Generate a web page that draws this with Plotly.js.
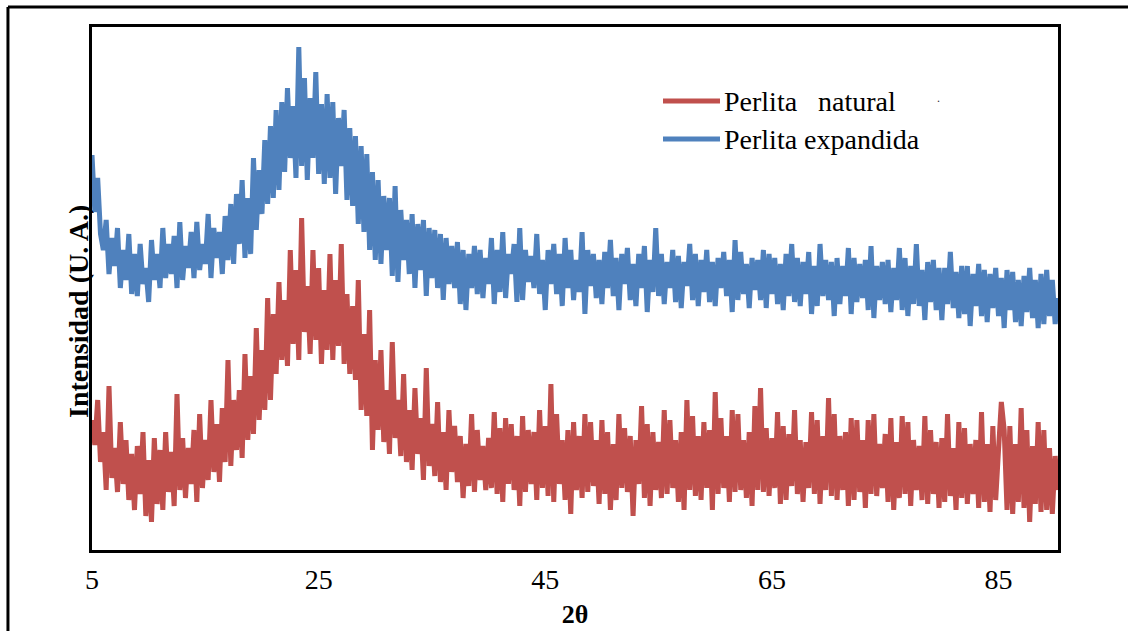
<!DOCTYPE html>
<html>
<head>
<meta charset="utf-8">
<script src="https://cdn.plot.ly/plotly-3.0.1.min.js"></script>
<style>html,body{margin:0;padding:0;background:#fff;}#chart{width:1128px;height:631px;}</style>
</head>
<body>
<div id="chart"></div>
<script>
// 2-theta sampling of the diffractograms
var thetaStart = 5;
var thetaStep = 0.25;
var tickValues = [5, 25, 45, 65, 85];
var tickLabels = ["5", "25", "45", "65", "85"];
var seriesNames = ["Perlita\u00a0\u00a0 natural", "Perlita expandida"];

// Intensity (arbitrary units), one value per 0.25 degree from 5 to 90.25
var perlitaNatural = [
130,105,150,88, 118,60,164,72, 102,58,128,66, 110,50,96,40,
104,56,118,34, 90,28,112,46, 100,40,118,58, 98,44,156,60,
112,52,102,66, 120,48,136,62, 110,70,150,78, 126,68,142,88,
190,84,150,100, 160,92,196,110, 174,116,222,130, 200,140,252,150,
236,176,268,190, 250,184,300,206, 280,190,332,218, 264,196,300,210,
282,186,260,200, 296,190,270,204, 306,186,256,176, 244,170,270,140,
216,134,240,100, 190,120,200,108, 160,96,208,112, 150,94,176,88,
140,80,162,96, 132,70,182,84, 126,74,148,68, 118,60,140,78,
124,68,114,52, 106,64,136,58, 120,70,104,60,
112,62,138,56, 122,48,132,66, 126,60,114,44, 134,58,120,66,
118,50,140,62, 124,54,166,48, 136,66,110,50, 120,36,128,60,
114,52,136,58, 128,64,110,46, 130,56,118,40, 106,50,136,62,
122,58,114,34, 110,66,144,52, 126,44,118,60, 108,52,140,56,
130,62,110,48, 118,40,150,60, 134,54,114,50, 128,62,120,40,
158,56,132,62, 114,48,140,58, 136,60,110,52, 118,44,144,60,
162,58,122,54, 112,62,138,46, 124,50,116,64, 140,56,110,48,
108,62,138,56, 130,46,114,60, 152,54,136,50, 114,60,118,44,
132,50,130,58, 110,42,130,56, 136,54,106,62, 116,48,132,40,
108,52,134,56, 128,44,110,60, 104,50,134,46, 120,56,108,42,
112,48,136,54, 102,40,128,52, 122,46,106,56, 110,42,138,48,
106,38,124,50, 100,148,120,40, 124,36,106,48, 142,42,120,28,
104,46,128,38, 120,40,102,36, 94,60
];

var perlitaExpandida = [
395,338,372,316, 300,330,276,312, 284,322,262,300, 270,316,256,296,
254,306,266,282, 248,310,270,296, 262,322,272,306, 276,314,262,328,
270,304,282,318, 272,328,280,306, 286,336,272,322, 292,318,276,334,
290,346,286,356, 306,370,292,352, 296,392,320,380, 336,410,346,424,
352,440,360,448, 378,462,392,444, 372,503,384,472, 370,452,392,478,
376,446,366,456, 372,448,356,432, 384,440,350,422, 344,414,326,404,
318,396,300,378, 290,370,286,354, 300,352,274,364, 268,340,290,330,
276,336,262,326, 280,330,254,322, 272,320,262,316, 250,312,266,304,
262,308,246,300, 240,296,262,304, 256,300,252,292,
266,312,246,300, 258,318,252,296, 276,306,248,322, 250,300,268,294,
262,316,256,290, 240,300,266,306, 256,296,244,312, 262,300,250,290,
258,318,236,300, 264,296,252,290, 246,298,262,310, 254,292,240,296,
266,302,250,286, 244,296,262,304, 238,290,258,322, 254,296,246,288,
262,300,248,294, 242,288,264,306, 250,296,244,290, 258,300,248,288,
244,292,262,298, 254,290,238,310, 250,298,256,286, 242,292,260,290,
250,300,242,296, 256,292,246,286, 240,296,254,306, 248,292,244,288,
256,298,236,284, 244,306,254,290, 250,288,234,292, 246,284,254,302,
236,292,248,286, 252,290,240,304, 232,284,250,288, 246,290,238,282,
250,302,240,292, 234,284,246,306, 244,280,230,288, 248,290,240,282,
230,282,246,298, 242,278,232,284, 236,284,224,276, 244,286,234,280,
228,276,242,282, 234,272,222,280, 240,278,228,270, 224,274,238,282,
232,270,222,276, 226,280,234,270, 226,252
];

function thetaAxis(n) {
  var xs = [];
  for (var i = 0; i < n; i++) xs.push(+(thetaStart + i * thetaStep).toFixed(2));
  return xs;
}

var colors = ["#C0504D", "#4F81BD"];
var traces = [
  {x: thetaAxis(perlitaNatural.length), y: perlitaNatural, name: seriesNames[0], type: "scatter", mode: "lines",
   line: {color: colors[0], width: 5}},
  {x: thetaAxis(perlitaExpandida.length), y: perlitaExpandida, name: seriesNames[1], type: "scatter", mode: "lines",
   line: {color: colors[1], width: 5}}
];

var serif = "Liberation Serif, Times New Roman, serif";
var layout = {
  width: 1128, height: 631,
  margin: {l: 92, r: 70, t: 27, b: 81, pad: 0},
  paper_bgcolor: "#fff", plot_bgcolor: "#fff",
  showlegend: false,
  font: {family: serif, color: "#000"},
  xaxis: {
    range: [5, 90.25], tickmode: "array", tickvals: tickValues, ticktext: tickLabels,
    ticks: "", showgrid: false, zeroline: false,
    showline: true, mirror: true, linecolor: "#000", linewidth: 3,
    tickfont: {family: serif, size: 28, color: "#000"},
    ticklabelstandoff: 2,
    title: {text: "<b>2θ</b>", font: {family: serif, size: 26, color: "#000"}, standoff: 12}
  },
  yaxis: {
    range: [0, 523], showticklabels: false, ticks: "", showgrid: false, zeroline: false,
    showline: true, mirror: true, linecolor: "#000", linewidth: 3
  },
  shapes: [
    {type: "line", xref: "paper", yref: "paper", x0: -0.087, x1: 1.1, y0: 1.0382, y1: 1.0382, line: {color: "#000", width: 3}},
    {type: "line", xref: "paper", yref: "paper", x0: -0.087, x1: -0.087, y0: 1.0382, y1: -0.2, line: {color: "#000", width: 3}},
    {type: "line", xref: "paper", yref: "paper", x0: 0.5911, x1: 0.6501, y0: 0.8585, y1: 0.8585, line: {color: colors[0], width: 5}},
    {type: "line", xref: "paper", yref: "paper", x0: 0.5911, x1: 0.6501, y0: 0.7858, y1: 0.7858, line: {color: colors[1], width: 5}}
  ],
  annotations: [
    {xref: "paper", yref: "paper", x: 0.6522, y: 0.8585, xanchor: "left", yanchor: "middle", showarrow: false,
     text: seriesNames[0], font: {family: serif, size: 28, color: "#000"}},
    {xref: "paper", yref: "paper", x: 0.6522, y: 0.7858, xanchor: "left", yanchor: "middle", showarrow: false,
     text: seriesNames[1], font: {family: serif, size: 28, color: "#000"}},
    {xref: "paper", yref: "paper", x: 0.8758, y: 0.8642, xanchor: "center", yanchor: "middle", showarrow: false,
     text: ".", font: {family: serif, size: 12, color: "#333"}},
    {xref: "paper", yref: "paper", x: -0.0135, y: 0.457, xanchor: "center", yanchor: "middle", showarrow: false,
     textangle: -90, text: "<b>Intensidad (U. A.)</b>", font: {family: serif, size: 28, color: "#000"}}
  ]
};

Plotly.newPlot("chart", traces, layout, {staticPlot: true, displayModeBar: false});
</script>
</body>
</html>
